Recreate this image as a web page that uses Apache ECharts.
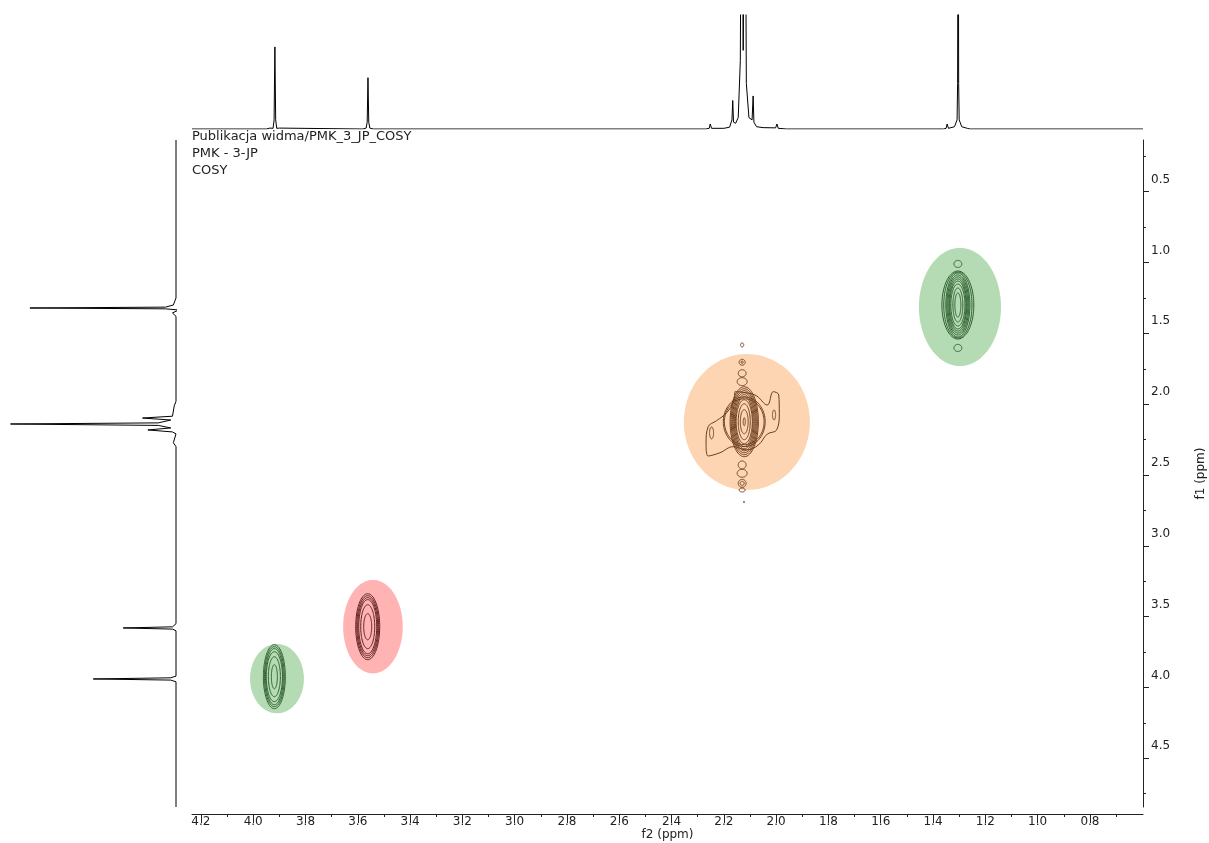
<!DOCTYPE html>
<html>
<head>
<meta charset="utf-8">
<script src="https://cdn.jsdelivr.net/npm/echarts@6/dist/echarts.min.js"></script>
<style>html,body{margin:0;padding:0;background:#fff;}#c{width:1209px;height:843px;}</style>
</head>
<body>
<div id="c"></div>
<script>
// ---------- data ----------
const titleLines = ['Publikacja widma/PMK_3_JP_COSY', 'PMK - 3-JP', 'COSY'];
const f2Major = [4.2, 4.0, 3.8, 3.6, 3.4, 3.2, 3.0, 2.8, 2.6, 2.4, 2.2, 2.0, 1.8, 1.6, 1.4, 1.2, 1.0, 0.8];
const f2Minor = [4.1, 3.9, 3.7, 3.5, 3.3, 3.1, 2.9, 2.7, 2.5, 2.3, 2.1, 1.9, 1.7, 1.5, 1.3, 1.1, 0.9, 0.7];
const f1Major = [0.5, 1.0, 1.5, 2.0, 2.5, 3.0, 3.5, 4.0, 4.5];
const f1Minor = [0.25, 0.75, 1.25, 1.75, 2.25, 2.75, 3.25, 3.75, 4.25, 4.75];
const F2_MIN = 0.597, F2_MAX = 4.234;
const F1_MIN = 0.135, F1_MAX = 4.844;

// 1D projection along f2 (top): [ppm, intensity]
const f2Spectrum = [
  [4.234,0],[3.95,0],[3.936,0.8],[3.930,0],[3.924,0.6],[3.920,8],[3.917,72],[3.914,8],[3.910,0.6],[3.904,0],[3.899,0.8],[3.893,0],
  [3.58,0],[3.568,0.8],[3.564,6],[3.561,45],[3.558,6],[3.554,0.8],[3.54,0],
  [2.27,0],[2.256,0.6],[2.252,4.4],[2.247,0.6],[2.20,0.6],[2.178,1.6],[2.169,8],[2.166,25],[2.163,6],[2.155,5],[2.145,10],[2.137,60],
  [2.132,300],[2.126,69],[2.119,300],[2.114,40],[2.104,10],[2.092,8],[2.088,29],[2.085,6],[2.075,2],[2.05,1.2],[2.002,1],[1.997,4.4],[1.992,0.6],[1.96,0],
  [1.36,0],[1.350,0.6],[1.346,4.4],[1.341,0.6],[1.318,2],[1.308,8],[1.306,40],[1.304,300],[1.302,40],[1.300,8],[1.290,2],[1.268,0.5],[1.263,1.8],[1.258,0],
  [0.597,0]
];
// 1D projection along f1 (left): [intensity, ppm]
const f1Spectrum = [
  [0,0.135],[0,1.25],[1.5,1.300],[6,1.315],[83,1.321],[6,1.327],[-1.5,1.335],[2,1.356],[0,1.38],
  [0,1.98],[1,2.012],[2,2.085],[19,2.098],[3,2.112],[10,2.132],[94,2.140],[10,2.150],[3,2.168],[16,2.182],[2,2.196],[0,2.21],[1.5,2.272],[0,2.30],
  [0,3.55],[2,3.572],[30,3.580],[2,3.588],[0,3.60],
  [0,3.92],[3,3.932],[47,3.940],[3,3.948],[0,3.96],[0,4.844]
];
// highlight ellipses behind cross peaks: [f2, f1, half-width f2, half-height f1]
const bgEllipses = [
  [1.297, 1.314, 0.157, 0.417],
  [2.112, 2.126, 0.241, 0.480],
  [3.542, 3.571, 0.114, 0.330],
  [3.909, 3.938, 0.103, 0.245]
];
// contour rings: [f2, f1, half-width f2, half-height f1]
const ringsGreenHi = [
  [1.305,1.300,0.0115,0.085],[1.305,1.300,0.019,0.120],[1.305,1.300,0.027,0.148],[1.305,1.300,0.031,0.169],
  [1.305,1.300,0.034,0.184],[1.305,1.300,0.038,0.198],[1.305,1.300,0.042,0.212],[1.305,1.300,0.046,0.226],
  [1.305,1.300,0.054,0.233],[1.305,1.300,0.061,0.240],
  [1.305,1.010,0.015,0.025],[1.305,1.603,0.015,0.025]
];
const ringsOrange = [
  [2.122,2.124,0.004,0.028],[2.122,2.124,0.015,0.085],[2.122,2.124,0.023,0.127],[2.122,2.124,0.031,0.155],
  [2.122,2.124,0.034,0.176],[2.122,2.124,0.038,0.191],[2.122,2.124,0.042,0.205],[2.122,2.124,0.046,0.219],
  [2.122,2.124,0.050,0.233],[2.122,2.124,0.054,0.247],[2.122,2.124,0.076,0.162],[2.122,2.124,0.080,0.175],
  [2.130,1.582,0.006,0.014],[2.130,1.704,0.0115,0.021],[2.130,1.704,0.004,0.0085],[2.130,1.782,0.015,0.025],
  [2.130,1.841,0.019,0.028],[2.130,2.429,0.015,0.028],[2.130,2.488,0.019,0.028],[2.130,2.559,0.015,0.028],
  [2.130,2.559,0.0077,0.014],[2.130,2.606,0.0115,0.014],[2.123,2.690,0.002,0.005],
  [2.247,2.203,0.0077,0.042],[2.008,2.076,0.006,0.035]
];
const wingOrange = [
  [2.158,1.912],[2.081,1.935],[2.034,2.006],[2.011,1.912],[1.990,1.935],[1.988,2.064],[1.998,2.182],[2.034,2.211],
  [2.068,2.288],[2.113,2.323],[2.164,2.300],[2.215,2.343],[2.260,2.366],[2.268,2.276],[2.260,2.159],[2.228,2.117],
  [2.189,2.060],[2.164,1.983],[2.158,1.912]
];
const ringsRed = [
  [3.562,3.571,0.0153,0.092],[3.562,3.571,0.0268,0.155],[3.562,3.571,0.0344,0.191],
  [3.562,3.571,0.0382,0.205],[3.562,3.571,0.042,0.219],[3.562,3.571,0.0459,0.233]
];
const ringsGreenLo = [
  [3.919,3.924,0.0115,0.085],[3.919,3.924,0.023,0.141],[3.919,3.924,0.031,0.176],
  [3.919,3.924,0.034,0.198],[3.919,3.924,0.038,0.212],[3.919,3.924,0.042,0.226]
];

// ---------- styles ----------
const FONT = 'DejaVu Sans';
const bgColors = ['#b4dbb4', '#fdd5b2', '#ffb3b3', '#b4dbb4'];

function ellipsePoints(api) {
  const c = api.coord([api.value(0), api.value(1)]);
  const s = api.size([api.value(2), api.value(3)]);
  const pts = [];
  for (let i = 0; i < 96; i++) {
    const a = i * Math.PI * 2 / 96;
    pts.push([c[0] + s[0] * Math.cos(a), c[1] + s[1] * Math.sin(a)]);
  }
  return pts;
}
function bgRender(params, api) {
  return { type: 'polygon', shape: { points: ellipsePoints(api) },
    style: { fill: bgColors[params.dataIndex], stroke: null } };
}
function ringRender(color) {
  return function (params, api) {
    return { type: 'polygon', shape: { points: ellipsePoints(api) },
      style: { fill: null, stroke: color, lineWidth: 1 } };
  };
}
function ringSeries(data, color) {
  return { type: 'custom', xAxisIndex: 0, yAxisIndex: 0, data: data, renderItem: ringRender(color),
    encode: { x: 0, y: 1 }, z: 3, silent: true };
}

const chart = echarts.init(document.getElementById('c'), null, { renderer: 'canvas' });
chart.setOption({
  animation: false,
  backgroundColor: '#ffffff',
  textStyle: { fontFamily: FONT },
  title: {
    text: titleLines.join('\n'), left: 192, top: 128, padding: 0,
    textStyle: { fontFamily: FONT, fontSize: 13, fontWeight: 'normal', color: '#222', lineHeight: 17 }
  },
  grid: [
    { left: 192, top: 140, width: 951, height: 667, outerBoundsMode: 'none', containLabel: false },
    { left: 192, top: 15, width: 951, height: 114, outerBoundsMode: 'none', containLabel: false },
    { left: 0, top: 140, width: 176, height: 667, outerBoundsMode: 'none', containLabel: false }
  ],
  xAxis: [
    { gridIndex: 0, type: 'value', min: F2_MIN, max: F2_MAX, inverse: true, position: 'bottom', offset: 7,
      name: 'f2 (ppm)', nameLocation: 'middle', nameGap: 15, nameMoveOverlap: false,
      nameTextStyle: { fontFamily: FONT, fontSize: 12, color: '#222' },
      axisLine: { show: true, lineStyle: { color: '#222', width: 1 } },
      axisTick: { show: true, length: 9, customValues: f2Major, lineStyle: { color: '#222' } },
      axisLabel: { show: true, customValues: f2Major, margin: 2, fontFamily: FONT, fontSize: 12, color: '#222',
        formatter: v => v.toFixed(1) },
      splitLine: { show: false } },
    { gridIndex: 0, type: 'value', min: F2_MIN, max: F2_MAX, inverse: true, position: 'bottom', offset: 7,
      axisLine: { show: false },
      axisTick: { show: true, length: 3, customValues: f2Minor, lineStyle: { color: '#222' } },
      axisLabel: { show: false }, splitLine: { show: false } },
    { gridIndex: 1, type: 'value', min: F2_MIN, max: F2_MAX, inverse: true, show: false },
    { gridIndex: 2, type: 'value', min: 0, max: 100, inverse: true, show: false }
  ],
  yAxis: [
    { gridIndex: 0, type: 'value', min: F1_MIN, max: F1_MAX, inverse: true, position: 'right',
      name: 'f1 (ppm)', nameLocation: 'middle', nameGap: 52, nameRotate: 90, nameMoveOverlap: false,
      nameTextStyle: { fontFamily: FONT, fontSize: 12, color: '#222' },
      axisLine: { show: true, lineStyle: { color: '#222', width: 1 } },
      axisTick: { show: true, length: 6, customValues: f1Major, lineStyle: { color: '#222' } },
      axisLabel: { show: true, customValues: f1Major, margin: 8, fontFamily: FONT, fontSize: 12, color: '#222',
        verticalAlign: 'bottom', padding: [0, 0, 6, 0], formatter: v => v.toFixed(1) },
      splitLine: { show: false } },
    { gridIndex: 0, type: 'value', min: F1_MIN, max: F1_MAX, inverse: true, position: 'right',
      axisLine: { show: false },
      axisTick: { show: true, length: 3, customValues: f1Minor, lineStyle: { color: '#222' } },
      axisLabel: { show: false }, splitLine: { show: false } },
    { gridIndex: 1, type: 'value', min: 0, max: 100, show: false },
    { gridIndex: 2, type: 'value', min: F1_MIN, max: F1_MAX, inverse: true, show: false }
  ],
  series: [
    { type: 'custom', xAxisIndex: 0, yAxisIndex: 0, data: bgEllipses, renderItem: bgRender,
      encode: { x: 0, y: 1 }, z: 1, silent: true },
    ringSeries(ringsGreenHi, '#2f5f2f'),
    ringSeries(ringsOrange, '#6b3d1f'),
    ringSeries(ringsRed, '#5e2020'),
    ringSeries(ringsGreenLo, '#2f5f2f'),
    { type: 'line', xAxisIndex: 0, yAxisIndex: 0, data: wingOrange, smooth: 0.4, showSymbol: false, z: 3,
      lineStyle: { color: '#6b3d1f', width: 1 }, silent: true },
    { type: 'line', xAxisIndex: 2, yAxisIndex: 2, data: f2Spectrum, showSymbol: false, clip: true,
      lineStyle: { color: '#000', width: 1 }, silent: true },
    { type: 'line', xAxisIndex: 3, yAxisIndex: 3, data: f1Spectrum, showSymbol: false, clip: true,
      lineStyle: { color: '#000', width: 1 }, silent: true }
  ]
});
</script>
</body>
</html>
